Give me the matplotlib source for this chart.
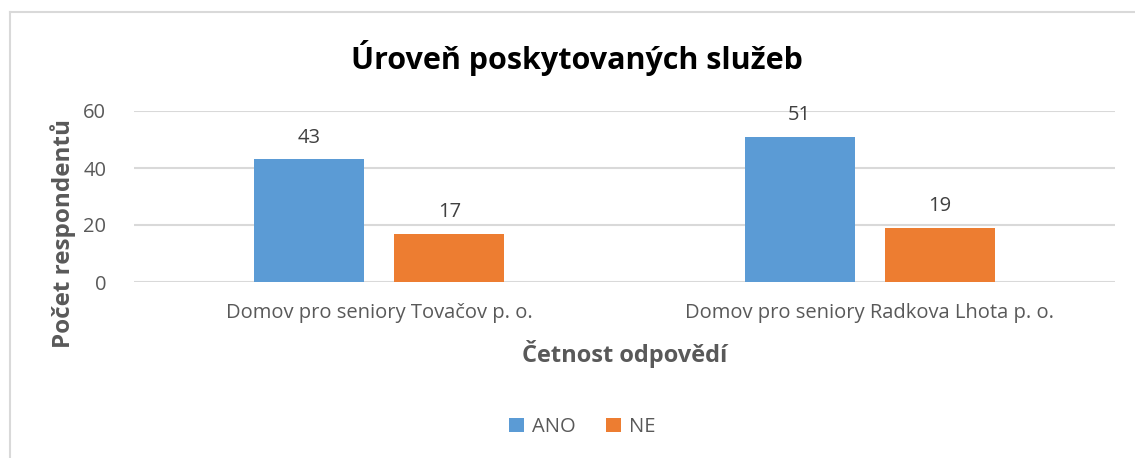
import matplotlib.pyplot as plt
import numpy as np
from matplotlib.lines import Line2D

categories = ["Domov pro seniory Tovačov p. o.", "Domov pro seniory Radkova Lhota p. o."]
ano = [43, 51]
ne = [17, 19]
series_names = ["ANO", "NE"]
yticks = [0, 20, 40, 60]

plt.rcParams['font.family'] = ['Open Sans', 'DejaVu Sans']

W, H = 1135, 458
fig = plt.figure(figsize=(W / 100, H / 100), dpi=100)

# outer chart border (light gray, only top and left visible)
fig.add_artist(Line2D([10 / W, 1], [1 - 12 / H, 1 - 12 / H], color="#d9d9d9", lw=1.5))
fig.add_artist(Line2D([10 / W, 10 / W], [0, 1 - 12 / H], color="#d9d9d9", lw=1.5))

ax = fig.add_axes([134 / W, 1 - 282 / H, (1115 - 134) / W, (282 - 111) / H])

x = np.arange(len(categories))
bw = 0.2245
off = 0.143
b1 = ax.bar(x - off, ano, bw, color="#5b9bd5", label=series_names[0])
b2 = ax.bar(x + off, ne, bw, color="#ed7d31", label=series_names[1])

for bars in (b1, b2):
    for r in bars:
        ax.text(r.get_x() + r.get_width() / 2, r.get_height() + 4.0, str(int(r.get_height())),
                ha="center", va="bottom", fontsize=14.5, color="#404040")

ax.set_xlim(-0.5, 1.5)
ax.set_ylim(0, 60)
ax.set_yticks(yticks)
ax.set_xticks(x)
ax.set_xticklabels(categories)
ax.tick_params(axis="both", length=0, labelsize=14.5, colors="#595959")
ax.tick_params(axis="x", pad=15)
ax.tick_params(axis="y", pad=20)
ax.grid(axis="y", color="#d9d9d9", lw=1.5)
ax.set_axisbelow(True)
for s in ax.spines.values():
    s.set_visible(False)

ax.set_xlabel("Četnost odpovědí", fontsize=17, fontweight="bold", color="#595959", labelpad=12)
ax.set_ylabel("Počet respondentů", fontsize=17.5, fontweight="bold", color="#595959")
ax.yaxis.set_label_coords((76 - 134) / (1115 - 134), (282 - 234) / 171)

fig.text(577 / W, 1 - 58 / H, "Úroveň poskytovaných služeb", ha="center", va="center",
         fontsize=22, fontweight="bold", color="black")

fig.legend(handles=[b1, b2], loc="center", bbox_to_anchor=(582 / W, 1 - 427 / H), ncol=2,
           frameon=False, fontsize=14.5, handlelength=0.75, handleheight=0.75,
           columnspacing=1.5, handletextpad=0.4, labelcolor="#595959")

fig.savefig("out.png", dpi=100)
